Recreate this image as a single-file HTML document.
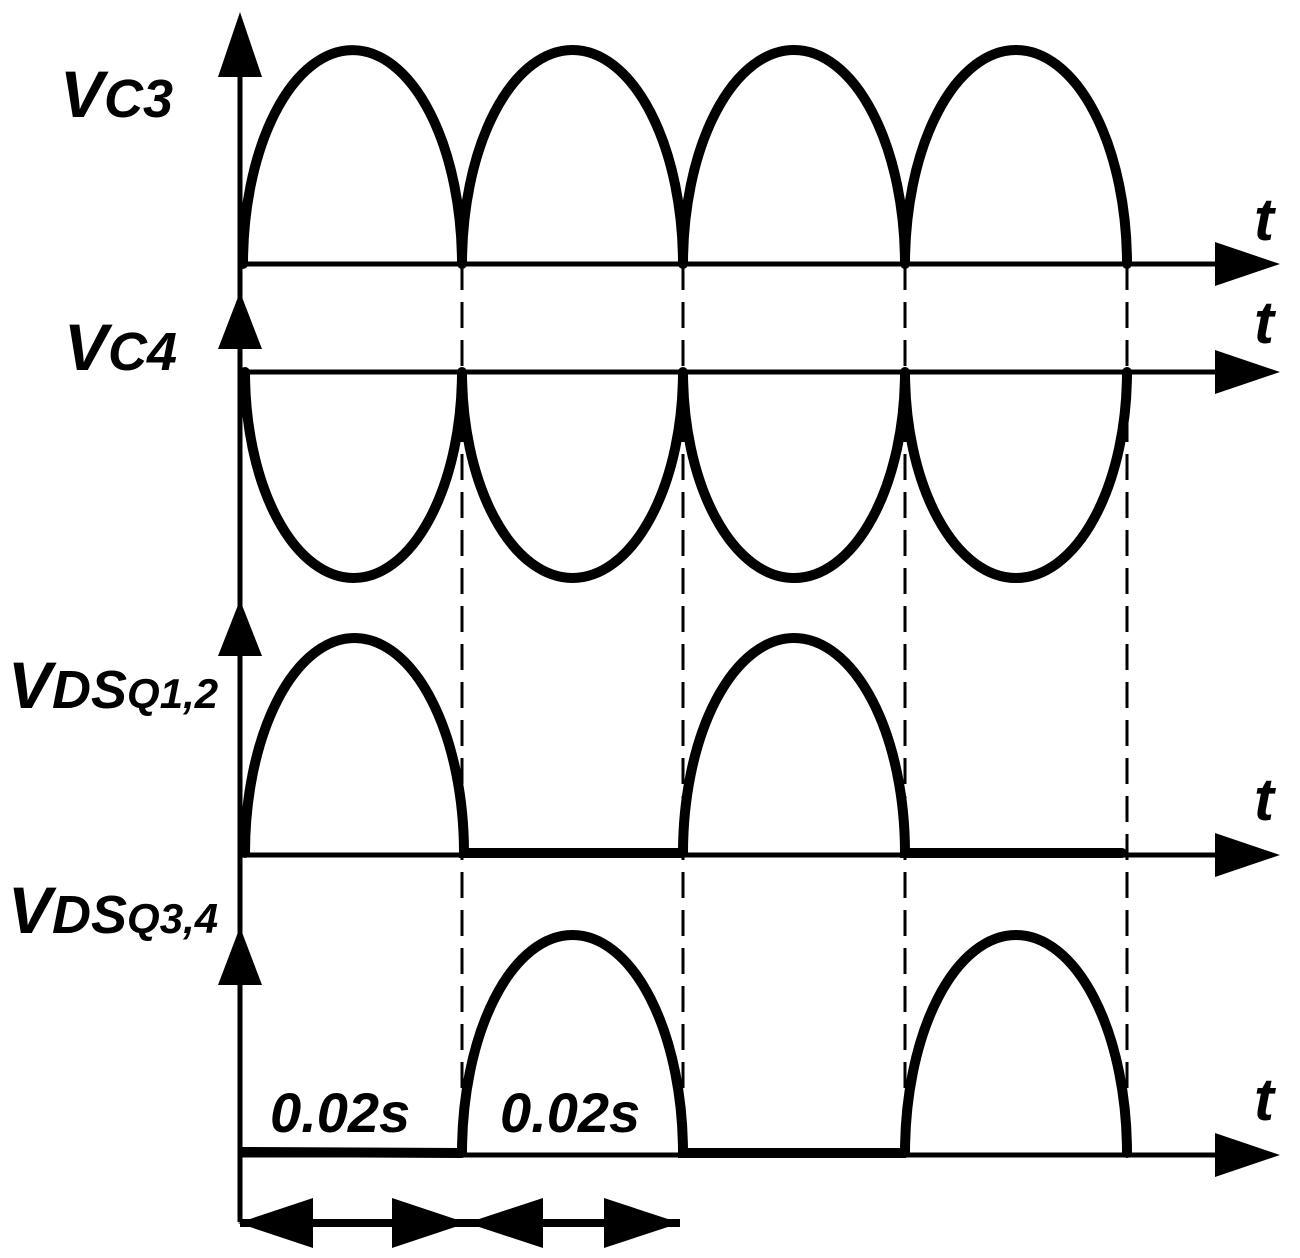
<!DOCTYPE html>
<html><head><meta charset="utf-8"><style>
html,body{margin:0;padding:0;background:#fff;}
svg{display:block;}
text{font-family:"Liberation Sans",sans-serif;font-weight:bold;font-style:italic;fill:#000;}
</style></head><body>
<svg width="1300" height="1258" viewBox="0 0 1300 1258" xmlns="http://www.w3.org/2000/svg">
<g stroke="#000" fill="none">
<line x1="240" y1="40" x2="240" y2="1222" stroke-width="5"/>
<line x1="240" y1="264" x2="1230" y2="264" stroke-width="5"/>
<line x1="240" y1="372" x2="1230" y2="372" stroke-width="5"/>
<line x1="240" y1="855" x2="1230" y2="855" stroke-width="5"/>
<line x1="240" y1="1155" x2="1230" y2="1155" stroke-width="5"/>
<g stroke-width="3" stroke-dasharray="26,12">
<line x1="462" y1="264" x2="462" y2="1155"/>
<line x1="683" y1="264" x2="683" y2="1155"/>
<line x1="905" y1="264" x2="905" y2="1155"/>
<line x1="1127" y1="264" x2="1127" y2="1155"/>
</g>
<g stroke-width="10" stroke-linecap="round">
<path d="M243 264 A109.5 214 0 0 1 462 264 M462 264 A110.5 214 0 0 1 683 264 M683 264 A111 214 0 0 1 905 264 M905 264 A111 214 0 0 1 1127 264"/>
<path d="M245 372 A108.5 206 0 0 0 462 372 M462 372 A110.5 206 0 0 0 683 372 M683 372 A111 206 0 0 0 905 372 M905 372 A111 206 0 0 0 1127 372"/>
<path d="M245 853 A109.5 215 0 0 1 464 853 L683 853 M683 853 A111 215 0 0 1 905 853 L1122 853"/>
<path d="M243 1152 L462 1153 M462 1153 A110.5 218 0 0 1 683 1153 L905 1153 M905 1153 A111 218 0 0 1 1127 1153"/>
</g>
</g>
<g fill="#000">
<polygon points="240,12 218,77 262,77"/>
<polygon points="240,292 218,349 262,349"/>
<polygon points="240,600 218,656 262,656"/>
<polygon points="240,927 218,985 262,985"/>
<polygon points="1280,264 1215,242 1215,286"/>
<polygon points="1280,372 1215,350 1215,394"/>
<polygon points="1280,855 1215,833 1215,877"/>
<polygon points="1280,1155 1215,1133 1215,1177"/>
<line x1="240" y1="1223" x2="680" y2="1223" stroke="#000" stroke-width="8"/>
<polygon points="238,1223 313,1198 313,1248"/>
<polygon points="467,1223 392,1198 392,1248"/>
<polygon points="467,1223 543,1198 543,1248"/>
<polygon points="680,1223 604,1198 604,1248"/>
</g>
<text x="60" y="117" font-size="66">V<tspan font-size="54">C3</tspan></text>
<text x="64" y="370" font-size="66">V<tspan font-size="54">C4</tspan></text>
<text x="8" y="708" font-size="66">V<tspan font-size="54">DS</tspan><tspan font-size="42">Q1,2</tspan></text>
<text x="8" y="933" font-size="66">V<tspan font-size="54">DS</tspan><tspan font-size="42">Q3,4</tspan></text>
<text x="1254" y="240" font-size="60">t</text>
<text x="1254" y="343" font-size="60">t</text>
<text x="1254" y="820" font-size="60">t</text>
<text x="1254" y="1120" font-size="60">t</text>
<text x="270" y="1132" font-size="56">0.02s</text>
<text x="500" y="1132" font-size="56">0.02s</text>
</svg>
</body></html>
